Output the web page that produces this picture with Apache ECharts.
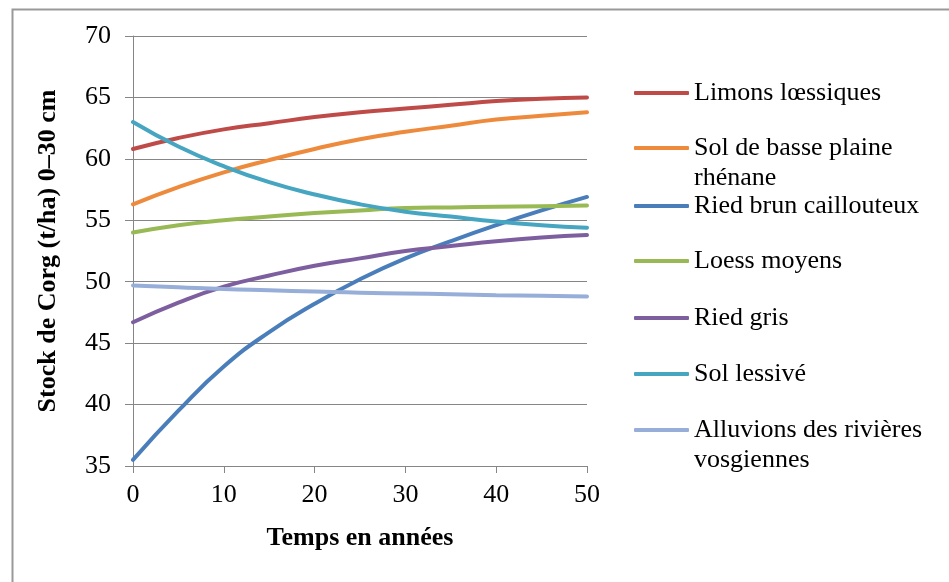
<!DOCTYPE html>
<html>
<head>
<meta charset="utf-8">
<script src="https://cdn.jsdelivr.net/npm/echarts@6/dist/echarts.min.js"></script>
<style>html,body{margin:0;padding:0;background:#fff}#c{width:949px;height:582px}</style>
</head>
<body>
<div id="c"></div>
<script>
var years = [0, 5, 10, 15, 20, 25, 30, 35, 40, 45, 50];
var seriesNames = ["Limons lœssiques", "Sol de basse plaine rhénane", "Ried brun caillouteux", "Loess moyens", "Ried gris", "Sol lessivé", "Alluvions des rivières vosgiennes"];
var legendLines = [["Limons lœssiques"], ["Sol de basse plaine", "rhénane"], ["Ried brun caillouteux"], ["Loess moyens"], ["Ried gris"], ["Sol lessivé"], ["Alluvions des rivières", "vosgiennes"]];
var limons = [60.8, 61.7, 62.4, 62.9, 63.4, 63.8, 64.1, 64.4, 64.7, 64.9, 65.0];
var basse = [56.3, 57.7, 58.9, 59.9, 60.8, 61.6, 62.2, 62.7, 63.2, 63.5, 63.8];
var riedBrun = [35.5, 39.5, 43.1, 45.9, 48.2, 50.2, 51.9, 53.3, 54.6, 55.8, 56.9];
var loess = [54.0, 54.6, 55.0, 55.3, 55.6, 55.8, 56.0, 56.05, 56.1, 56.15, 56.2];
var riedGris = [46.7, 48.3, 49.6, 50.5, 51.3, 51.9, 52.5, 52.9, 53.3, 53.6, 53.8];
var lessive = [63.0, 61.0, 59.4, 58.1, 57.1, 56.3, 55.7, 55.3, 54.9, 54.6, 54.4];
var alluvions = [49.7, 49.55, 49.4, 49.3, 49.2, 49.1, 49.05, 48.98, 48.9, 48.85, 48.8];
var yTicks = [35, 40, 45, 50, 55, 60, 65, 70];
var xTicks = [0, 10, 20, 30, 40, 50];

var allValues = [limons, basse, riedBrun, loess, riedGris, lessive, alluvions];
var colors = ['#BE4B48', '#EE8A3C', '#4A7EBB', '#98B954', '#7D5FA0', '#46A5C0', '#97AED8'];
var legendCenters = [93, 148, 206, 261, 318, 374, 430];

var FONT = 'Liberation Serif';

var series = seriesNames.map(function (n, i) {
  return {
    name: n, type: 'line', smooth: true, showSymbol: false, symbol: 'none',
    data: years.map(function (y, j) { return [y, allValues[i][j]]; }),
    lineStyle: { width: 4, color: colors[i], cap: 'round' },
    itemStyle: { color: colors[i] },
    z: 2
  };
});

// legend components provide the line icons; labels are drawn as text next to them
var legends = seriesNames.map(function (n, i) {
  return {
    data: [{ name: n, icon: 'roundRect' }],
    left: 634,
    top: legendCenters[i] - 2,
    orient: 'vertical',
    itemWidth: 55, itemHeight: 4, itemGap: 0, padding: 0,
    selectedMode: false,
    formatter: function () { return ''; },
    textStyle: { fontSize: 1 }
  };
});

var legendTexts = legendLines.map(function (lines, i) {
  return {
    type: 'text', left: 694, top: legendCenters[i] - 15, z: 10,
    style: {
      text: lines.join('\n'), fill: '#000',
      fontFamily: FONT, fontSize: 26, lineHeight: 30
    }
  };
});

var chart = echarts.init(document.getElementById('c'), null, { renderer: 'canvas' });
chart.setOption({
  animation: false,
  backgroundColor: '#fff',
  textStyle: { fontFamily: FONT },
  graphic: [{
    type: 'rect', left: 10, top: 7, shape: { width: 1000, height: 700 },
    style: { fill: 'none', stroke: '#999999', lineWidth: 2 }, z: -1
  }].concat(legendTexts),
  grid: { left: 133, right: 362, top: 36, bottom: 116, containLabel: false },
  legend: legends,
  xAxis: {
    type: 'value', min: 0, max: 50, interval: 10,
    name: 'Temps en années', nameLocation: 'middle', nameGap: 59,
    nameTextStyle: { fontFamily: FONT, fontSize: 26, fontWeight: 'bold', color: '#000' },
    axisLine: { show: true, lineStyle: { color: '#868686', width: 1 } },
    axisTick: { show: true, length: 7, lineStyle: { color: '#868686' } },
    splitLine: { show: false },
    axisLabel: { fontFamily: FONT, fontSize: 26, color: '#000', margin: 16,
      formatter: function (v) { return xTicks.indexOf(v) >= 0 ? String(v) : ''; } }
  },
  yAxis: {
    type: 'value', min: 35, max: 70, interval: 5,
    name: 'Stock de Corg (t/ha) 0–30 cm', nameLocation: 'middle', nameGap: 72,
    nameTextStyle: { fontFamily: FONT, fontSize: 26, fontWeight: 'bold', color: '#000' },
    axisLine: { show: true, lineStyle: { color: '#868686', width: 1 } },
    axisTick: { show: true, length: 8, lineStyle: { color: '#868686' } },
    splitLine: { show: true, lineStyle: { color: '#868686', width: 1 } },
    axisLabel: { fontFamily: FONT, fontSize: 26, color: '#000', margin: 22,
      formatter: function (v) { return yTicks.indexOf(v) >= 0 ? String(v) : ''; } }
  },
  series: series
});
</script>
</body>
</html>
